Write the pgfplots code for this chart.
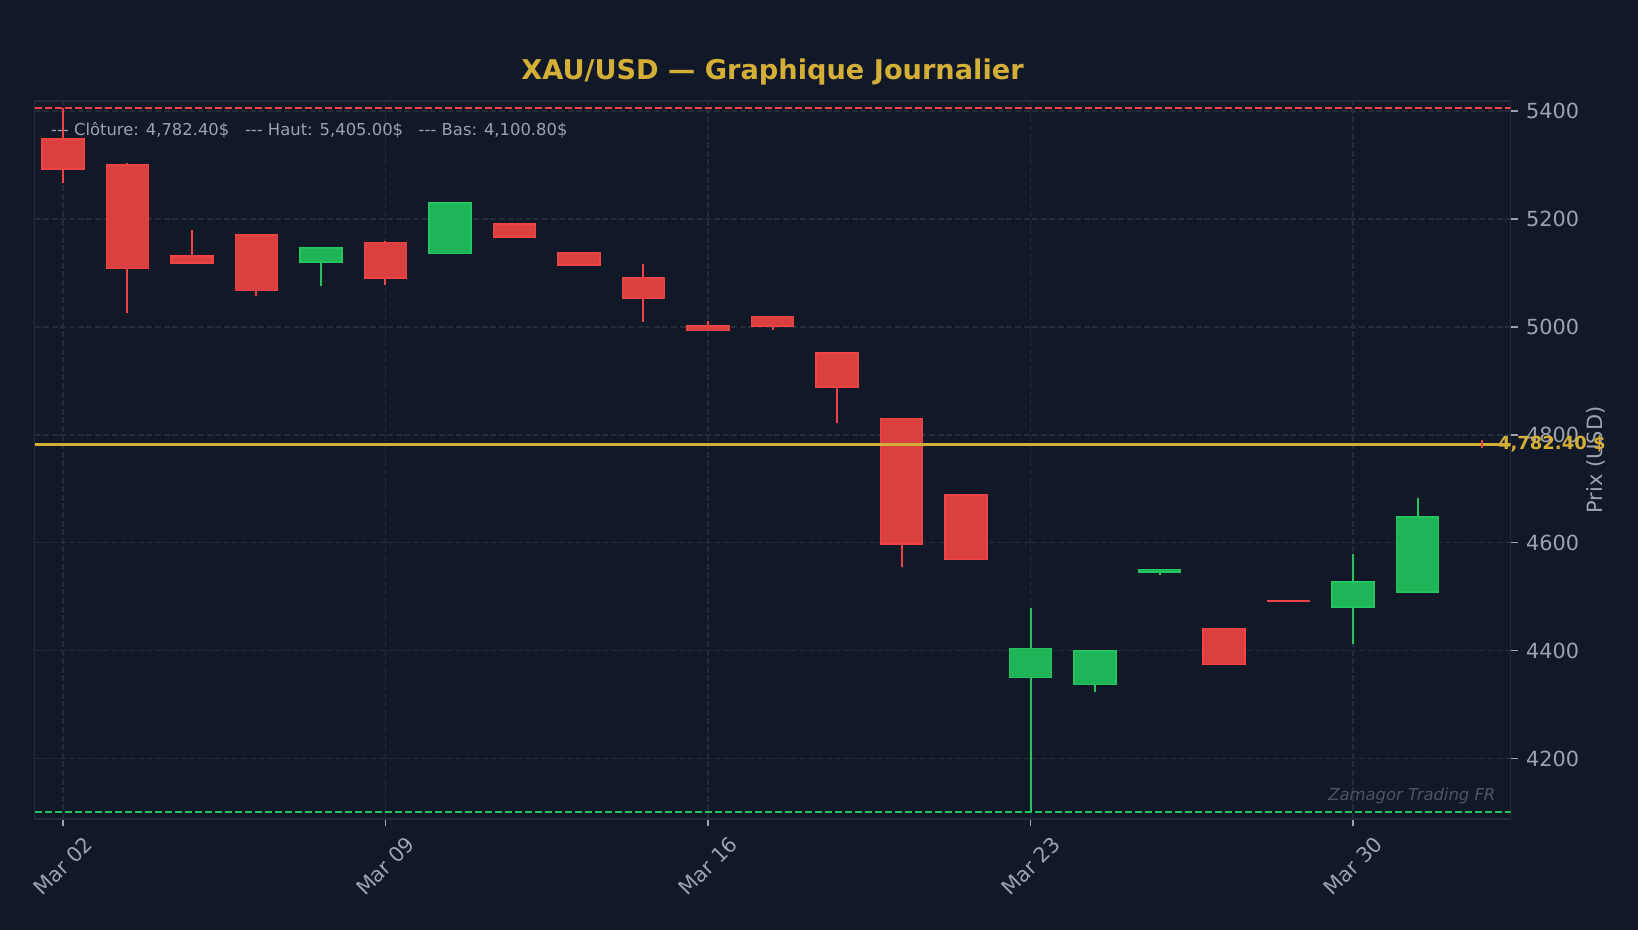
\documentclass[border=0pt]{standalone}
\usepackage{fontspec}
\setmainfont{DejaVu Sans}
\usepackage{pgfplots}
\usepackage{pgfplotstable}
\pgfplotsset{compat=1.18}

\definecolor{bg}{HTML}{111827}
\definecolor{gridc}{HTML}{232C3B}
\definecolor{tickc}{HTML}{9CA3AF}
\definecolor{gold}{HTML}{D4AF37}
\definecolor{upedge}{HTML}{22C55E}
\definecolor{upfill}{HTML}{20B458}
\definecolor{dnedge}{HTML}{EF4444}
\definecolor{dnfill}{HTML}{D9403F}
\definecolor{wmark}{HTML}{4B5563}

% daily candles (index, open, high, low, close), rising days
\pgfplotstableread{
i  o       h       l       c
4  5120    5146    5075    5146
6  5136    5230    5136    5230
15 4350    4479    4100.8  4404
16 4337    4399    4324    4399
17 4546    4551    4540    4550
20 4481    4579    4412    4527
21 4508    4682    4508    4648
}\upc

% falling days
\pgfplotstableread{
i  o       h       l       c
0  5348    5405    5266    5292
1  5300    5303    5025    5108
2  5131    5180    5118    5118
3  5170    5170    5057    5067
5  5156    5159    5077    5090
7  5191    5191    5166    5166
8  5137    5137    5115    5115
9  5091    5116    5009    5053
10 5002    5010    4993    4993
11 5019    5019    4994    5001
12 4951    4951    4822    4889
13 4830    4830    4554    4598
14 4688    4688    4569    4569
18 4441    4441    4374    4374
19 4493    4493    4491    4491
22 4783    4791    4775    4782.4
}\dnc

\pgfplotsset{
  candle/.style 2 args={scatter, only marks, mark=*, mark size=0pt,
    mark options={draw=none, fill=none},
    visualization depends on={\thisrow{c}-\thisrow{o} \as \bodyh},
    visualization depends on={\thisrow{l}-\thisrow{o} \as \wicklo},
    visualization depends on={\thisrow{h}-\thisrow{o} \as \wickhi},
    scatter/@pre marker code/.code={%
      \draw[#1, line width=1pt] (axis direction cs:0,\wicklo) -- (axis direction cs:0,\wickhi);
      \draw[draw=#1, fill=#2, line width=0.8pt] (axis direction cs:-0.325,0) rectangle (axis direction cs:0.325,\bodyh);
    },
    scatter/@post marker code/.code={}},
}

\begin{document}
\begin{tikzpicture}
\fill[bg] (0,0) rectangle (819pt,465pt);
\begin{axis}[
  at={(17.25pt,55.5pt)}, anchor=south west,
  scale only axis, width=738pt, height=358.85pt,
  xmin=-0.44, xmax=22.44, ymin=4087.76, ymax=5418.04,
  clip marker paths=true,
  axis background/.style={fill=bg},
  axis line style={draw=gridc, line width=0.8pt},
  xtick={0,5,10,15,20},
  xticklabels={Mar 02,Mar 09,Mar 16,Mar 23,Mar 30},
  ytick={4200,4400,...,5400},
  xtick pos=left, ytick pos=right, yticklabel pos=right,
  tick align=outside, major tick length=3.5pt,
  major tick style={draw=tickc, line width=0.8pt},
  grid=major,
  major grid style={draw=gridc, line width=0.8pt, dash pattern=on 3pt off 1.3pt},
  /pgf/number format/1000 sep={},
  /pgf/number format/assume math mode=true,
  tick label style={font=\fontsize{10.4pt}{12pt}\selectfont, text=tickc},
  yticklabel style={anchor=west, inner sep=0pt, xshift=4.1pt},
  xticklabel style={anchor=center, inner sep=0pt, yshift=-20pt, rotate=45},
  ylabel={Prix (USD)},
  every axis y label/.style={at={(axis description cs:1.0579,0.5)}, rotate=90, anchor=center,
    font=\fontsize{10.5pt}{12pt}\selectfont, text=tickc},
]
\addplot[candle={upedge}{upfill}] table[x=i, y=o] {\upc};
\addplot[candle={dnedge}{dnfill}] table[x=i, y=o] {\dnc};
\addplot[dnedge, line width=0.9pt, dash pattern=on 3.5pt off 1.5pt] coordinates {(-0.44,5405) (22.44,5405)};
\addplot[upedge, line width=0.9pt, dash pattern=on 3.5pt off 1.5pt] coordinates {(-0.44,4100.8) (22.44,4100.8)};
\addplot[gold, line width=1.5pt] coordinates {(-0.44,4782.4) (22.44,4782.4)};
\addplot[dnedge, line width=1pt] coordinates {(22,4775) (22,4791)};
\coordinate (lab) at (axis cs:22.24,4782.4);
\coordinate (stats) at (rel axis cs:0.011,0.9523);
\coordinate (wm) at (rel axis cs:0.99,0.02);
\end{axis}
\node[anchor=west, inner sep=0pt, text=gold, font=\fontsize{9pt}{11pt}\selectfont\bfseries] at (lab) {4,782.40 \$};
\node[anchor=base west, inner sep=0pt, text=tickc, font=\fontsize{8.2pt}{10pt}\selectfont] at (stats)
  {-{}-{}- Clôture: 4,782.40\$\ \ \ -{}-{}- Haut: 5,405.00\$\ \ \ -{}-{}- Bas: 4,100.80\$};
\node[anchor=south east, inner sep=0pt, text=wmark, font=\fontsize{8.2pt}{10pt}\selectfont\itshape] at (wm) {Zamagor Trading FR};
\node[anchor=base, inner sep=0pt, text=gold, font=\fontsize{13.6pt}{16pt}\selectfont\bfseries] at (386.25pt,425.35pt) {XAU/USD — Graphique Journalier};
\pgfresetboundingbox
\useasboundingbox (0,0) rectangle (819pt,465pt);
\end{tikzpicture}
\end{document}
